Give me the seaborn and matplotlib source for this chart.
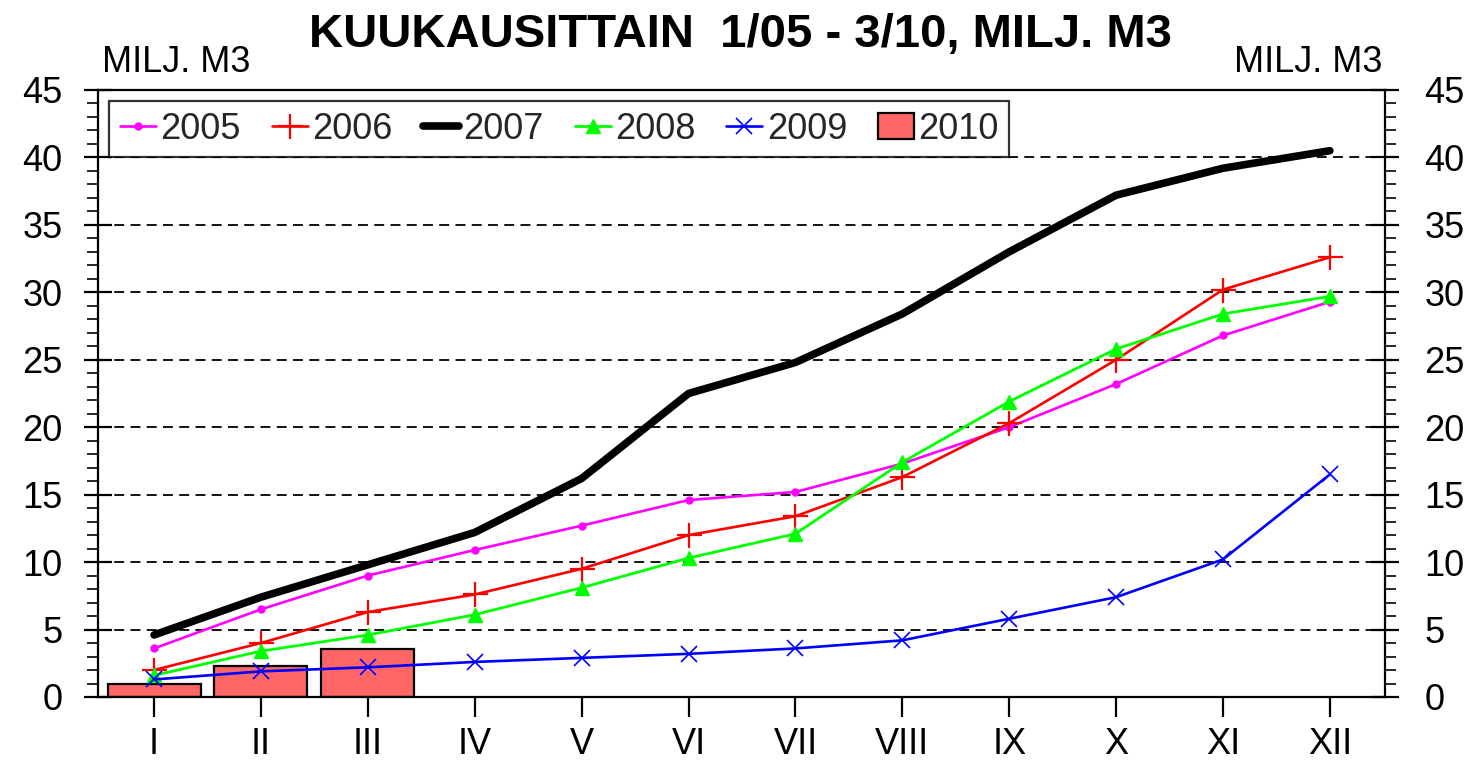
import numpy as np
import pandas as pd
import matplotlib
matplotlib.use("Agg")
import matplotlib.pyplot as plt
import seaborn as sns
from matplotlib.ticker import MultipleLocator

# --- data ---
months = ["I", "II", "III", "IV", "V", "VI", "VII", "VIII", "IX", "X", "XI", "XII"]
v2005 = [3.6, 6.5, 9.0, 10.9, 12.7, 14.6, 15.2, 17.3, 20.0, 23.2, 26.8, 29.3]
v2006 = [2.0, 4.0, 6.3, 7.6, 9.5, 12.0, 13.4, 16.3, 20.3, 25.0, 30.2, 32.6]
v2007 = [4.6, 7.4, 9.8, 12.2, 16.2, 22.5, 24.8, 28.4, 33.0, 37.2, 39.2, 40.5]
v2008 = [1.6, 3.4, 4.6, 6.1, 8.1, 10.3, 12.1, 17.4, 21.9, 25.8, 28.4, 29.7]
v2009 = [1.3, 1.9, 2.2, 2.6, 2.9, 3.2, 3.6, 4.2, 5.8, 7.4, 10.2, 16.5]
bar_months = ["I", "II", "III"]
v2010 = [1.0, 2.3, 3.55]

sns.set_theme(style="white")
plt.rcParams['font.family'] = ['Liberation Sans', 'DejaVu Sans']

FS = 26

fig = plt.figure(figsize=(14.72, 7.64), dpi=100)
ax = fig.add_axes([0.0669, 0.0877, 0.8743, 0.7945])

# pylväät (2010)
bars = pd.DataFrame({"kk": bar_months, "v": v2010})
sns.barplot(data=bars, x="kk", y="v", order=months, color="#ff6666",
            saturation=1, width=0.87, edgecolor="black", linewidth=1.6,
            ax=ax, zorder=2, label="2010")

xi = np.arange(len(months))
styles = [
    ("2005", v2005, "#ff00ff", 1.9, "o", 5, 1),
    ("2006", v2006, "#ff0000", 1.9, "+", 18, 1.6),
    ("2007", v2007, "black", 5.5, None, 0, 0),
    ("2008", v2008, "#00ff00", 2.0, "^", 10, 1),
    ("2009", v2009, "#0000ff", 1.9, "x", 12, 1.2),
]
for name, vals, col, lw, mk, ms, mew in styles:
    sns.lineplot(x=xi, y=vals, color=col, linewidth=lw, marker=mk,
                 markersize=ms, markeredgewidth=mew, markeredgecolor=col,
                 ax=ax, zorder=3, label=name)

ax.set_xlim(-0.52, 11.52)
ax.set_ylim(0, 45)
ax.set_xticks(xi)
ax.set_xticklabels(months)
ax.yaxis.set_major_locator(MultipleLocator(5))
ax.yaxis.set_minor_locator(MultipleLocator(1))
ax.set_xlabel("")
ax.set_ylabel("")

for y in range(5, 45, 5):
    ax.axhline(y, color="black", linestyle=(0, (5.5, 3.5)), linewidth=1.3, zorder=1)

for s in ax.spines.values():
    s.set_color("black")
    s.set_linewidth(1.6)

ax.tick_params(axis="x", which="major", direction="out", length=14.5, width=1.6,
               pad=7, labelsize=FS, colors="black", bottom=True, top=False)
ax.tick_params(axis="y", which="major", direction="inout", length=20, width=1.6,
               pad=16, labelsize=FS, colors="black", left=True)
ax.tick_params(axis="y", which="minor", direction="out", length=8, width=1.4,
               left=True)

ax2 = ax.twinx()
ax2.set_ylim(0, 45)
ax2.yaxis.set_major_locator(MultipleLocator(5))
ax2.yaxis.set_minor_locator(MultipleLocator(1))
for s in ax2.spines.values():
    s.set_visible(False)
ax2.tick_params(axis="y", which="major", direction="inout", length=20, width=1.6,
                pad=18, labelsize=FS, colors="black", right=True)
ax2.tick_params(axis="y", which="minor", direction="out", length=8, width=1.4,
                right=True)
ax2.grid(False)

# selite: viivat ensin, pylväät viimeisenä
h, l = ax.get_legend_handles_labels()
order = [l.index(n) for n in ["2005", "2006", "2007", "2008", "2009", "2010"]]
leg = ax.legend([h[i] for i in order], [l[i] for i in order], loc="upper left",
                ncol=6, fontsize=FS, frameon=True, fancybox=False,
                borderaxespad=0.3, handlelength=1.0, handletextpad=0.12,
                columnspacing=0.85, borderpad=0.3)
leg.get_frame().set_edgecolor("black")
leg.get_frame().set_linewidth(1.6)
leg.set_zorder(5)

fig.text(0.503, 1 - 47 / 764, "KUUKAUSITTAIN  1/05 - 3/10, MILJ. M3", ha="center",
         va="baseline", fontsize=34, fontweight="bold", color="black")
fig.text(0.0693, 1 - 72 / 764, "MILJ. M3", ha="left", va="baseline", fontsize=FS,
         color="black")
fig.text(0.9389, 1 - 72 / 764, "MILJ. M3", ha="right", va="baseline", fontsize=FS,
         color="black")

fig.savefig("out.png", dpi=100)
